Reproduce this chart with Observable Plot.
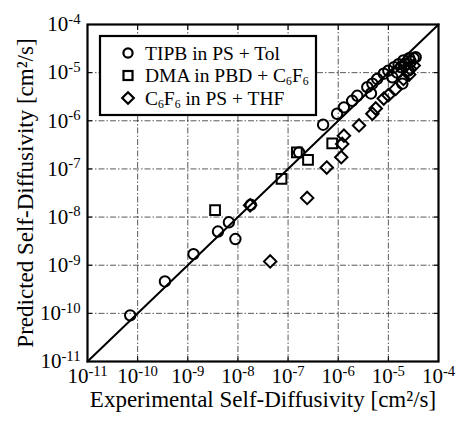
<!DOCTYPE html>
<html>
<head>
<meta charset="utf-8">
<script src="https://cdn.jsdelivr.net/npm/d3@7"></script>
<script src="https://cdn.jsdelivr.net/npm/@observablehq/plot@0.6"></script>
<style>
  html, body { margin: 0; padding: 0; background: #fff; }
  #wrap { position: relative; width: 457px; height: 421px; }
</style>
</head>
<body>
<div id="wrap"></div>
<script>
// ---- data (cm^2/s) ----
const seriesNames = ["TIPB in PS + Tol", "DMA in PBD + C6F6", "C6F6 in PS + THF"];

const tipbExp  = [7.1e-11, 3.5e-10, 1.3e-9, 4.0e-9, 6.6e-9, 8.9e-9, 1.8e-8, 1.66e-7, 5.0e-7, 9.5e-7, 1.3e-6, 1.9e-6, 2.4e-6, 3.8e-6, 4.5e-6, 4.8e-6, 6.0e-6, 8.1e-6, 1.0e-5, 1.2e-5, 1.3e-5, 1.5e-5, 1.6e-5, 1.8e-5, 1.9e-5, 2.0e-5, 2.2e-5, 2.5e-5, 2.6e-5, 2.8e-5, 3.2e-5, 3.5e-5];
const tipbPred = [9.1e-11, 4.6e-10, 1.7e-9, 5.0e-9, 7.8e-9, 3.5e-9, 1.8e-8, 2.2e-7, 8.3e-7, 1.4e-6, 1.9e-6, 2.6e-6, 3.3e-6, 5.0e-6, 3.7e-6, 5.9e-6, 7.4e-6, 9.5e-6, 1.1e-5, 8.0e-6, 1.3e-5, 1.0e-5, 1.5e-5, 1.3e-5, 5.9e-6, 1.8e-5, 1.5e-5, 1.1e-5, 2.0e-5, 1.7e-5, 2.0e-5, 2.1e-5];

const dmaExp  = [3.5e-9, 7.4e-8, 1.5e-7, 2.5e-7, 7.6e-7];
const dmaPred = [1.4e-8, 6.2e-8, 2.2e-7, 1.55e-7, 3.4e-7];

const c6f6Exp  = [4.4e-8, 1.75e-8, 2.4e-7, 5.9e-7, 1.15e-6, 1.2e-6, 1.3e-6, 2.6e-6, 4.8e-6, 5.6e-6, 8.1e-6, 1.0e-5, 1.4e-5, 2.0e-5, 2.6e-5, 2.7e-5, 3.2e-5];
const c6f6Pred = [1.2e-9, 1.75e-8, 2.5e-8, 1.07e-7, 1.75e-7, 3.3e-7, 4.9e-7, 8.0e-7, 1.4e-6, 1.8e-6, 2.9e-6, 3.4e-6, 4.6e-6, 7.4e-6, 9.1e-6, 1.2e-5, 1.4e-5];

const decades = [1e-11, 1e-10, 1e-9, 1e-8, 1e-7, 1e-6, 1e-5, 1e-4];
const gridTicks = [1e-10, 1e-9, 1e-8, 1e-7, 1e-6, 1e-5];
const diagonal = [1e-11, 1e-4];
const xLabel = "Experimental Self-Diffusivity [cm²/s]";
const yLabel = "Predicted Self-Diffusivity [cm²/s]";

// ---- build tables ----
const tipb = tipbExp.map((x, i) => ({x, y: tipbPred[i]}));
const dma = dmaExp.map((x, i) => ({x, y: dmaPred[i]}));
const c6f6 = c6f6Exp.map((x, i) => ({x, y: c6f6Pred[i]}));
const symbols = ["circle", "square", "diamond2"];
const FONT = "'Liberation Serif', 'Times New Roman', serif";
const fmt = d => "10^" + Math.round(Math.log10(d));
const blank = () => "";
const grid = {stroke: "#000", strokeOpacity: 0.65, strokeWidth: 1, strokeDasharray: "6,2,1.5,2"};
const dotStyle = {x: "x", y: "y", stroke: "#000", strokeWidth: 2, fill: "none"};

const chart = Plot.plot({
  width: 457, height: 421,
  marginLeft: 87, marginRight: 19, marginTop: 24, marginBottom: 60,
  style: {fontFamily: FONT, fontSize: "21px", color: "#000", background: "#fff"},
  x: {type: "log", domain: [1e-11, 1e-4]},
  y: {type: "log", domain: [1e-11, 1e-4]},
  marks: [
    Plot.gridX(gridTicks, grid),
    Plot.gridY(gridTicks, grid),
    Plot.line(diagonal, {x: d => d, y: d => d, stroke: "#000", strokeWidth: 2}),
    Plot.dot(tipb, {...dotStyle, symbol: symbols[0], r: 5.2}),
    Plot.dot(dma, {...dotStyle, symbol: symbols[1], r: 5.5}),
    Plot.dot(c6f6, {...dotStyle, symbol: symbols[2], r: 5.6}),
    Plot.axisX(decades, {anchor: "bottom", tickSize: 0, tickPadding: 7, tickFormat: fmt, label: xLabel, labelAnchor: "center", labelOffset: 45, labelArrow: "none"}),
    Plot.axisX(decades, {anchor: "bottom", tickSize: 5, dy: -5, tickFormat: blank, label: null}),
    Plot.axisX(decades, {anchor: "top", tickSize: 5, dy: 5, tickFormat: blank, label: null}),
    Plot.axisY(decades, {anchor: "left", tickSize: 0, tickPadding: 7, tickFormat: fmt, label: yLabel, labelAnchor: "center", labelOffset: 71, labelArrow: "none"}),
    Plot.axisY(decades, {anchor: "left", tickSize: 5, dx: 5, tickFormat: blank, label: null}),
    Plot.axisY(decades, {anchor: "right", tickSize: 5, dx: -5, tickFormat: blank, label: null}),
    Plot.frame({stroke: "#000", strokeWidth: 2.2})
  ]
});

// superscript exponents in tick labels; larger axis titles
const NS = "http://www.w3.org/2000/svg";
const el = (name, attrs = {}) => {
  const e = document.createElementNS(NS, name);
  for (const k in attrs) e.setAttribute(k, attrs[k]);
  return e;
};
chart.querySelectorAll("text").forEach(t => {
  const s = t.textContent;
  if (s === xLabel || s === yLabel) { t.setAttribute("font-size", "23px"); return; }
  const m = /^10\^(-?\d+)$/.exec(s);
  if (!m) return;
  t.textContent = "";
  const base = el("tspan"); base.textContent = "10";
  const sup = el("tspan", {dy: "-0.5em", "font-size": "0.7em"}); sup.textContent = m[1];
  t.appendChild(base);
  t.appendChild(sup);
});

// legend (inside the SVG, upper-left of the frame)
const legendParts = [
  [["TIPB in PS + Tol", false]],
  [["DMA in PBD + C", false], ["6", true], ["F", false], ["6", true]],
  [["C", false], ["6", true], ["F", false], ["6", true], [" in PS + THF", false]]
];
const lg = el("g", {"aria-label": "legend", "font-family": FONT, "font-size": "19.5px", fill: "#000", "text-anchor": "start"});
lg.appendChild(el("rect", {x: 100, y: 36, width: 216, height: 79, fill: "#fff", stroke: "#000", "stroke-width": 2.2}));
const symbolShapes = [
  cy => el("circle", {cx: 128, cy, r: 4.6, fill: "none", stroke: "#000", "stroke-width": 2.2}),
  cy => el("rect", {x: 123.5, y: cy - 4.5, width: 9, height: 9, fill: "none", stroke: "#000", "stroke-width": 2.2}),
  cy => el("path", {d: `M128 ${cy - 5.8} L133.8 ${cy} L128 ${cy + 5.8} L122.2 ${cy} Z`, fill: "none", stroke: "#000", "stroke-width": 2.2})
];
seriesNames.forEach((name, i) => {
  const cy = 53 + i * 22.5;
  lg.appendChild(symbolShapes[i](cy));
  const t = el("text", {x: 145, y: cy + 6.5, "text-anchor": "start"});
  let shifted = false;
  legendParts[i].forEach(([str, sub]) => {
    const ts = el("tspan");
    if (sub) { ts.setAttribute("font-size", "0.6em"); if (!shifted) { ts.setAttribute("dy", "3"); shifted = true; } }
    else if (shifted) { ts.setAttribute("dy", "-3"); shifted = false; }
    ts.textContent = str;
    t.appendChild(ts);
  });
  lg.appendChild(t);
});
chart.appendChild(lg);

document.getElementById("wrap").appendChild(chart);
</script>
</body>
</html>
